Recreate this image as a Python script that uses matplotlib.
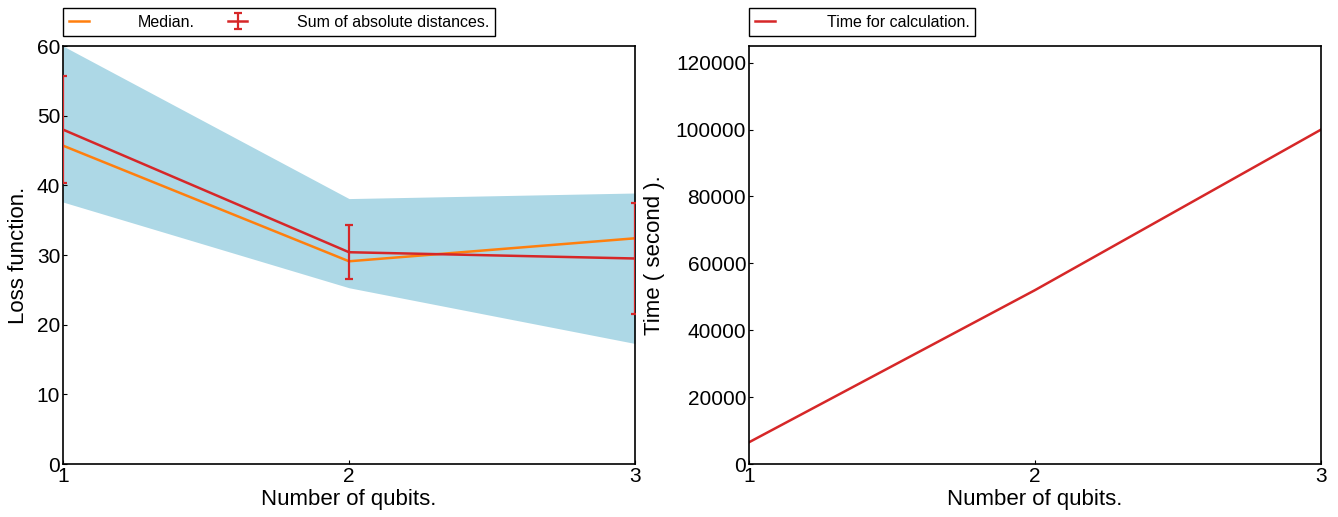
import matplotlib
matplotlib.use("Agg")
import matplotlib.pyplot as plt

plt.rcParams['font.family'] = ['Liberation Sans', 'DejaVu Sans']

# data
qubits = [1, 2, 3]
median_loss = [45.7, 29.1, 32.4]
sum_abs = [48.0, 30.4, 29.5]
sum_abs_err = [7.7, 3.9, 8.0]
band_low = [37.6, 25.3, 17.3]
band_high = [60.0, 38.1, 38.9]
calc_time = [6500, 52000, 100000]

RED = '#d62728'
ORANGE = '#ff7f0e'

fig = plt.figure(figsize=(13.38, 5.17), dpi=100)
ax1 = fig.add_axes([0.0471, 0.1025, 0.4275, 0.8085])
ax2 = fig.add_axes([0.5598, 0.1025, 0.4275, 0.8085])

# left: loss function
ax1.fill_between(qubits, band_low, band_high, color='lightblue', linewidth=0, zorder=1)
ax1.plot(qubits, median_loss, color=ORANGE, lw=1.8, label='Median.', zorder=3)
ax1.errorbar(qubits, sum_abs, yerr=sum_abs_err, color=RED, lw=1.8, elinewidth=1.6,
             capsize=3, capthick=1.6, label='Sum of absolute distances.', zorder=4)
ax1.set_xlim(1, 3)
ax1.set_ylim(0, 60)
ax1.set_xticks([1, 2, 3])
ax1.set_yticks(range(0, 61, 10))
ax1.set_xlabel('Number of qubits.', fontsize=16, labelpad=2)
ax1.set_ylabel('Loss function.', fontsize=16, labelpad=6)
ax1.legend(loc='lower left', bbox_to_anchor=(0, 1.024, 0.756, 0.068), mode='expand',
           ncol=2, fontsize=11.5, handlelength=1.2, handletextpad=3.1,
           fancybox=False, edgecolor='black', framealpha=1, borderaxespad=0)

# right: calculation time
ax2.plot(qubits, calc_time, color=RED, lw=1.8, label='Time for calculation.')
ax2.set_xlim(1, 3)
ax2.set_ylim(0, 125000)
ax2.set_xticks([1, 2, 3])
ax2.set_yticks(range(0, 120001, 20000))
ax2.set_xlabel('Number of qubits.', fontsize=16, labelpad=2)
ax2.set_ylabel('Time ( second ).', fontsize=16, labelpad=8)
ax2.legend(loc='lower left', bbox_to_anchor=(0, 1.024, 0.395, 0.068), mode='expand',
           fontsize=11.5, handlelength=1.2, handletextpad=3.3,
           fancybox=False, edgecolor='black', framealpha=1, borderaxespad=0)

for ax in (ax1, ax2):
    ax.tick_params(direction='in', length=3, width=0.8, labelsize=15, pad=2)
    for s in ax.spines.values():
        s.set_linewidth(1.2)

fig.savefig('out.png', dpi=100)
